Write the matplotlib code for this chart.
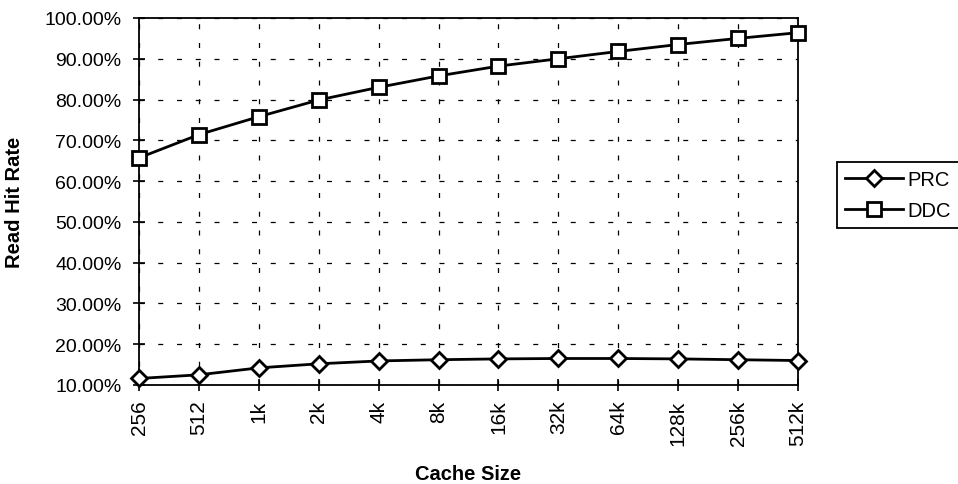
import numpy as np
import matplotlib
matplotlib.use('Agg')
import matplotlib.pyplot as plt
from matplotlib.ticker import PercentFormatter

cache_sizes = ['256', '512', '1k', '2k', '4k', '8k', '16k', '32k', '64k', '128k', '256k', '512k']
prc = [11.6, 12.5, 14.2, 15.2, 15.9, 16.2, 16.4, 16.5, 16.5, 16.4, 16.2, 16.0]
ddc = [65.7, 71.4, 75.8, 79.9, 83.0, 85.8, 88.2, 90.0, 91.8, 93.5, 95.0, 96.4]

plt.rcParams['font.family'] = ['Liberation Sans', 'DejaVu Sans']

fig = plt.figure(figsize=(9.58, 4.85), dpi=100)
ax = fig.add_axes([139/958, 1-386/485, (798-139)/958, (386-19)/485])

x = np.arange(len(cache_sizes))
ax.plot(x, prc, color='black', lw=2.0, marker='D', ms=8.5, mfc='white', mec='black', mew=2.0,
        label='PRC', clip_on=False, zorder=3)
ax.plot(x, ddc, color='black', lw=2.0, marker='s', ms=10, mfc='white', mec='black', mew=2.0,
        label='DDC', clip_on=False, zorder=3)

ax.set_xlim(0, len(cache_sizes) - 1)
ax.set_ylim(10, 100)
ax.set_yticks(np.arange(10, 101, 10))
ax.yaxis.set_major_formatter(PercentFormatter(decimals=2))
ax.set_xticks(x)
ax.set_xticklabels(cache_sizes, rotation=90, fontsize=15)
ax.tick_params(axis='y', labelsize=14, direction='inout', length=9, width=1.2, pad=8)
ax.tick_params(axis='x', direction='inout', length=9, width=1.2, pad=6)

ax.grid(True, color='black', lw=0.9, linestyle=(0, (4, 11)))
for s in ax.spines.values():
    s.set_linewidth(1.3)
    s.set_color('black')

ax.set_xlabel('Cache Size', fontsize=14.5, fontweight='bold', labelpad=14)
fig.text(15/958, 1-202/485, 'Read Hit Rate', rotation=90, ha='center', va='center',
         fontsize=14.5, fontweight='bold')

leg = fig.legend(loc='upper left', bbox_to_anchor=(837/958, 1-163/485), fontsize=14.5,
                 frameon=True, fancybox=False, edgecolor='black', framealpha=1,
                 handlelength=2.9, borderaxespad=0, borderpad=0.4, labelspacing=0.6,
                 handletextpad=0.2)
leg.get_frame().set_linewidth(1.3)

fig.savefig('out.png', dpi=100)
